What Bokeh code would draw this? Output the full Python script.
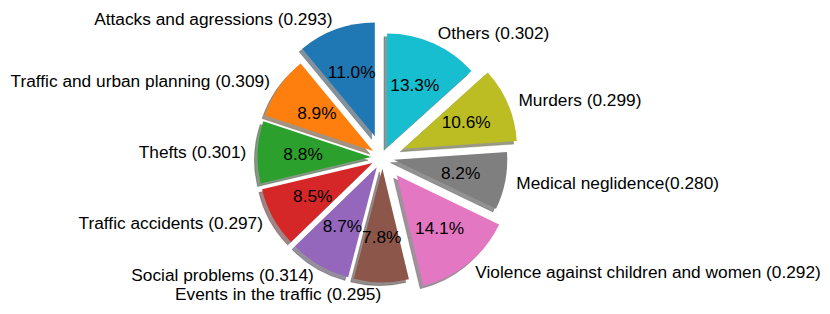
import math
from bokeh.plotting import figure
from bokeh.models import ColumnDataSource, Range1d
from bokeh.core.properties import value
from bokeh.embed import file_html
from bokeh.resources import INLINE

# ---- data ----
categories = [
    "Attacks and agressions (0.293)",
    "Traffic and urban planning (0.309)",
    "Thefts (0.301)",
    "Traffic accidents (0.297)",
    "Social problems (0.314)",
    "Events in the traffic (0.295)",
    "Violence against children and women (0.292)",
    "Medical neglidence(0.280)",
    "Murders (0.299)",
    "Others (0.302)",
]
shares = [11.0, 8.9, 8.8, 8.5, 8.7, 7.8, 14.1, 8.2, 10.6, 13.3]
explode = [0.2, 0.1, 0.1, 0.1, 0.1, 0.1, 0.2, 0.1, 0.2, 0.1]
colors = ["#1f77b4", "#ff7f0e", "#2ca02c", "#d62728", "#9467bd",
          "#8c564b", "#e377c2", "#7f7f7f", "#bcbd22", "#17becf"]

# ---- layout constants ----
W, H = 830, 314
SCALE = 113.6           # px per pie radius
CX, CY = 382.0, 157.0   # pie centre in figure pixels
LABEL_DIST = 1.1
PCT_DIST = 0.6
SHADOW = 0.02 * 100 / 72
FONT_SIZE = "17.3px"

total = sum(shares)
start = math.radians(90.0)
xs, ys, a0, a1 = [], [], [], []
lx, ly, la, px, py = [], [], [], [], []
sh_x, sh_y, sh_col = [], [], []
cum = 0.0
for s, e, c in zip(shares, explode, colors):
    t0 = start + 2 * math.pi * cum / total
    cum += s
    t1 = start + 2 * math.pi * cum / total
    tm = (t0 + t1) / 2
    x = e * math.cos(tm)
    y = e * math.sin(tm)
    xs.append(x); ys.append(y); a0.append(t0); a1.append(t1)
    xt = x + LABEL_DIST * math.cos(tm)
    yt = y + LABEL_DIST * math.sin(tm)
    lx.append(xt); ly.append(yt); la.append("left" if xt > 0 else "right")
    px.append(x + PCT_DIST * math.cos(tm)); py.append(y + PCT_DIST * math.sin(tm))
    sh_x.append(x - SHADOW); sh_y.append(y - SHADOW)
    r_, g_, b_ = (int(c[i:i + 2], 16) for i in (1, 3, 5))
    sh_col.append("#%02x%02x%02x" % (int(r_ * 0.3), int(g_ * 0.3), int(b_ * 0.3)))

pct_text = ["%.1f%%" % (100.0 * s / total) for s in shares]

src = ColumnDataSource(dict(x=xs, y=ys, a0=a0, a1=a1, color=colors,
                            sx=sh_x, sy=sh_y, scol=sh_col,
                            lx=lx, ly=ly, la=la, label=categories,
                            px=px, py=py, pct=pct_text))

p = figure(width=W, height=H, output_backend="svg", toolbar_location=None,
           x_axis_location=None, y_axis_location=None, min_border=0,
           x_range=Range1d(-CX / SCALE, (W - CX) / SCALE),
           y_range=Range1d(-(H - CY) / SCALE, CY / SCALE))
p.grid.visible = False
p.outline_line_color = None
p.background_fill_color = "white"
p.border_fill_color = "white"

p.wedge(x="sx", y="sy", radius=1.0, start_angle="a0", end_angle="a1",
        direction="anticlock", fill_color="scol", fill_alpha=0.5,
        line_color="scol", line_alpha=0.5, line_width=0.5, source=src)
p.wedge(x="x", y="y", radius=1.0, start_angle="a0", end_angle="a1",
        direction="anticlock", fill_color="color", line_color=None, source=src)

p.text(x="lx", y="ly", text="label", text_align="la", text_baseline="middle",
       text_font=value("Liberation Sans"), text_font_size=value(FONT_SIZE),
       text_color="black", source=src)
p.text(x="px", y="py", text="pct", text_align="center", text_baseline="middle",
       text_font=value("Liberation Sans"), text_font_size=value(FONT_SIZE),
       text_color="black", source=src)

open("out.html", "w").write(file_html(p, INLINE))
